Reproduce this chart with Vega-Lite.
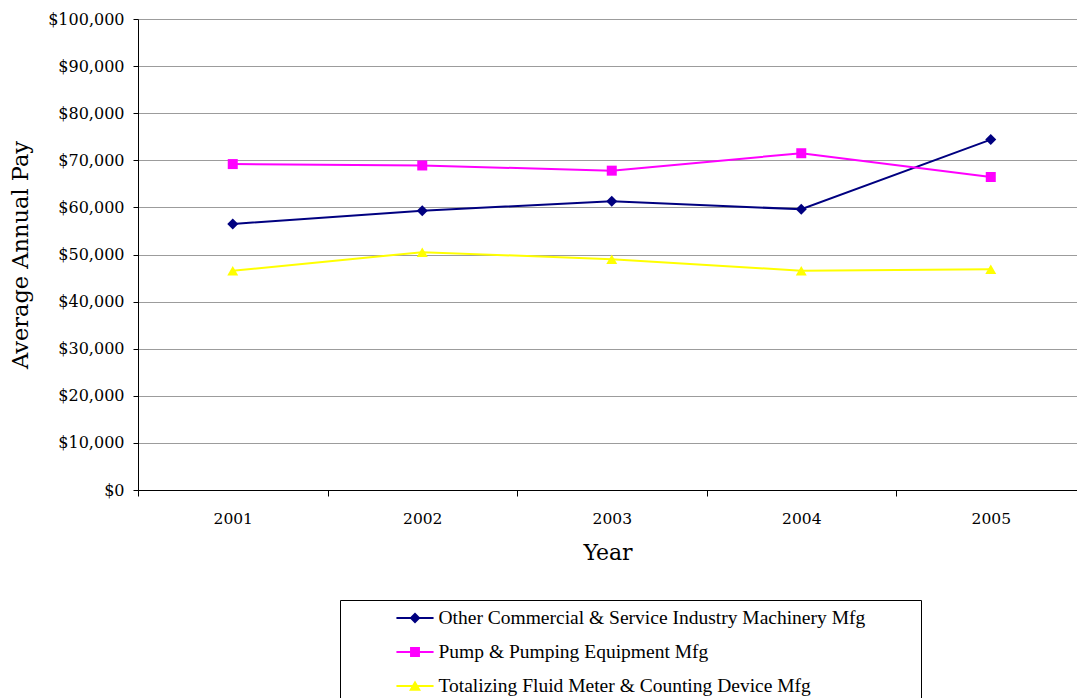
{
  "$schema": "https://vega.github.io/schema/vega-lite/v6.json",
  "autosize": "none",
  "width": 939,
  "height": 471,
  "padding": {"left": 138, "top": 19, "right": 0, "bottom": 208},
  "background": "#ffffff",
  "config": {"view": {"stroke": null}, "font": "DejaVu Serif"},
  "data": {"values": [
    {"series": "Other Commercial & Service Industry Machinery Mfg", "year": 2001, "pay": 56500},
    {"series": "Other Commercial & Service Industry Machinery Mfg", "year": 2002, "pay": 59300},
    {"series": "Other Commercial & Service Industry Machinery Mfg", "year": 2003, "pay": 61300},
    {"series": "Other Commercial & Service Industry Machinery Mfg", "year": 2004, "pay": 59600},
    {"series": "Other Commercial & Service Industry Machinery Mfg", "year": 2005, "pay": 74400},
    {"series": "Pump & Pumping Equipment Mfg", "year": 2001, "pay": 69200},
    {"series": "Pump & Pumping Equipment Mfg", "year": 2002, "pay": 68900},
    {"series": "Pump & Pumping Equipment Mfg", "year": 2003, "pay": 67800},
    {"series": "Pump & Pumping Equipment Mfg", "year": 2004, "pay": 71500},
    {"series": "Pump & Pumping Equipment Mfg", "year": 2005, "pay": 66450},
    {"series": "Totalizing Fluid Meter & Counting Device Mfg", "year": 2001, "pay": 46550},
    {"series": "Totalizing Fluid Meter & Counting Device Mfg", "year": 2002, "pay": 50500},
    {"series": "Totalizing Fluid Meter & Counting Device Mfg", "year": 2003, "pay": 49000},
    {"series": "Totalizing Fluid Meter & Counting Device Mfg", "year": 2004, "pay": 46560},
    {"series": "Totalizing Fluid Meter & Counting Device Mfg", "year": 2005, "pay": 46880}
  ]},
  "encoding": {
    "x": {
      "field": "year", "type": "quantitative",
      "scale": {"domain": [2000.5, 2005.455], "nice": false, "zero": false},
      "axis": {
        "values": [2000.5, 2001, 2001.5, 2002, 2002.5, 2003, 2003.5, 2004, 2004.5, 2005],
        "labelExpr": "datum.value % 1 === 0 ? '' + datum.value : ''",
        "tickOpacity": {"condition": {"test": "datum.value % 1 === 0", "value": 0}, "value": 1},
        "grid": false,
        "domainColor": "#000000", "domainWidth": 1,
        "tickColor": "#000000", "tickSize": 6, "tickWidth": 1,
        "labelFont": "DejaVu Serif", "labelFontSize": 15.5, "labelColor": "#000000",
        "labelPadding": 15, "labelFlush": false, "labelOverlap": false,
        "title": "Year", "titleFont": "DejaVu Serif", "titleFontSize": 22,
        "titleFontWeight": "normal", "titleColor": "#000000", "titlePadding": 16
      }
    },
    "y": {
      "field": "pay", "type": "quantitative",
      "scale": {"domain": [0, 100000], "nice": false},
      "axis": {
        "values": [0, 10000, 20000, 30000, 40000, 50000, 60000, 70000, 80000, 90000, 100000],
        "format": "$,.0f",
        "grid": true, "gridColor": "#9c9c9c", "gridWidth": 1,
        "domainColor": "#000000", "domainWidth": 1,
        "tickColor": "#000000", "tickSize": 5, "tickWidth": 1,
        "labelFont": "DejaVu Serif", "labelFontSize": 16, "labelColor": "#000000",
        "labelPadding": 9, "labelOverlap": false,
        "title": "Average Annual Pay", "titleFont": "DejaVu Serif", "titleFontSize": 22.5,
        "titleFontWeight": "normal", "titleColor": "#000000", "titlePadding": 15
      }
    }
  },
  "layer": [
    {
      "mark": {"type": "point", "filled": true, "size": 0},
      "encoding": {
        "color": {
          "field": "series", "type": "nominal",
          "scale": {
            "domain": ["Other Commercial & Service Industry Machinery Mfg", "Pump & Pumping Equipment Mfg", "Totalizing Fluid Meter & Counting Device Mfg"],
            "range": ["#000080", "#ff00ff", "#ffff00"]
          },
          "legend": {
            "title": null, "orient": "none", "legendX": 202, "legendY": 581, "direction": "vertical",
            "strokeColor": "#000000", "fillColor": "#ffffff", "padding": 2,
            "symbolOffset": 57, "symbolSize": 1024, "symbolStrokeWidth": 0, "symbolOpacity": 1,
            "labelFont": "Liberation Serif", "labelFontSize": 19.5, "labelColor": "#000000",
            "labelOffset": 7.5, "labelLimit": 1000, "rowPadding": 8,
            "labelExpr": "datum.label + '\u00a0\u00a0\u00a0\u00a0\u00a0\u00a0\u00a0\u00a0\u00a0\u00a0\u00a0\u200b'"
          }
        },
        "shape": {
          "field": "series", "type": "nominal",
          "scale": {
            "domain": ["Other Commercial & Service Industry Machinery Mfg", "Pump & Pumping Equipment Mfg", "Totalizing Fluid Meter & Counting Device Mfg"],
            "range": [
              "M-1.16,-0.065H1.16V0.065H-1.16Z M-0.34,0L0,-0.34L0.34,0L0,0.34Z",
              "M-1.16,-0.065H1.16V0.065H-1.16Z M-0.31,-0.31H0.31V0.31H-0.31Z",
              "M-1.16,-0.065H1.16V0.065H-1.16Z M0,-0.34L0.375,0.3H-0.375Z"
            ]
          },
          "legend": {
            "title": null, "orient": "none", "legendX": 202, "legendY": 581, "direction": "vertical",
            "strokeColor": "#000000", "fillColor": "#ffffff", "padding": 2,
            "symbolOffset": 57, "symbolSize": 1024, "symbolStrokeWidth": 0, "symbolOpacity": 1,
            "labelFont": "Liberation Serif", "labelFontSize": 19.5, "labelColor": "#000000",
            "labelOffset": 7.5, "labelLimit": 1000, "rowPadding": 8,
            "labelExpr": "datum.label + '\u00a0\u00a0\u00a0\u00a0\u00a0\u00a0\u00a0\u00a0\u00a0\u00a0\u00a0\u200b'"
          }
        }
      }
    },
    {
      "mark": {"type": "line", "strokeWidth": 2},
      "encoding": {
        "color": {"field": "series", "type": "nominal", "legend": null}
      }
    },
    {
      "transform": [{"filter": "datum.series === 'Other Commercial & Service Industry Machinery Mfg'"}],
      "mark": {"type": "point", "shape": "diamond", "size": 121, "filled": true, "opacity": 1, "color": "#000080"}
    },
    {
      "transform": [{"filter": "datum.series === 'Pump & Pumping Equipment Mfg'"}],
      "mark": {"type": "point", "shape": "square", "size": 100, "filled": true, "opacity": 1, "color": "#ff00ff"}
    },
    {
      "transform": [{"filter": "datum.series === 'Totalizing Fluid Meter & Counting Device Mfg'"}],
      "mark": {"type": "point", "shape": "triangle-up", "size": 120, "filled": true, "opacity": 1, "color": "#ffff00"}
    }
  ]
}
